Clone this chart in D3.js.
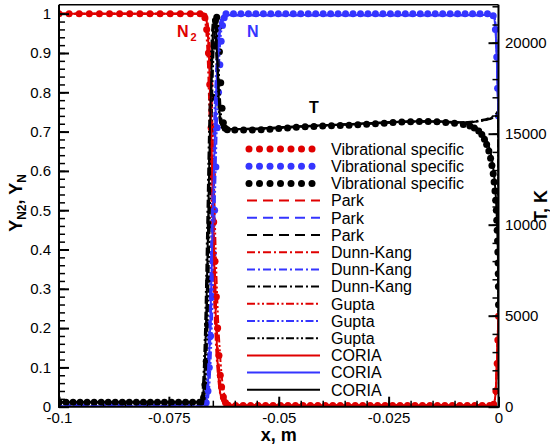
<!DOCTYPE html>
<html><head><meta charset="utf-8">
<script src="https://cdn.jsdelivr.net/npm/d3@7"></script>
<style>body{margin:0;background:#fff}svg{display:block}text{font-family:"Liberation Sans",Arial,sans-serif}</style>
</head><body><svg id="c" width="550" height="448"></svg>
<script>
// ---------------- DATA ----------------
const xTicks = [-0.1, -0.075, -0.05, -0.025, 0];
const xTickLabels = ["-0.1", "-0.075", "-0.05", "-0.025", "0"];
const yTicks = [0, 0.1, 0.2, 0.3, 0.4, 0.5, 0.6, 0.7, 0.8, 0.9, 1];
const yTickLabels = ["0", "0.1", "0.2", "0.3", "0.4", "0.5", "0.6", "0.7", "0.8", "0.9", "1"];
const tTicks = [0, 5000, 10000, 15000, 20000];
const tTickLabels = ["0", "5000", "10000", "15000", "20000"];
const models = ["Vibrational specific", "Park", "Dunn-Kang", "Gupta", "CORIA"];

// Vibrational specific (symbols)
const vibN2 = [[-0.1,1],[-0.0977,1],[-0.0954,1],[-0.0931,1],[-0.0908,1],[-0.0885,1],[-0.0862,1],[-0.0839,1],[-0.0816,1],[-0.0793,1],[-0.077,1],[-0.0747,1],[-0.0724,1],[-0.0701,1],[-0.0679,1],
 [-0.0668,0.99],[-0.0664,0.96],[-0.066,0.9],[-0.0657,0.82],[-0.0654,0.71],[-0.0651,0.59],[-0.0648,0.47],[-0.0645,0.37],[-0.0642,0.28],[-0.0639,0.2],[-0.0636,0.13],[-0.0633,0.08],[-0.063,0.05],[-0.0626,0.025],[-0.0621,0.01],[-0.0615,0.004],
 [-0.0598,0.003],[-0.0581,0.003],[-0.0564,0.003],[-0.0547,0.003],[-0.053,0.003],[-0.0513,0.003],[-0.0496,0.003],[-0.0479,0.003],[-0.0462,0.003],[-0.0445,0.003],[-0.0428,0.003],[-0.0411,0.003],[-0.0394,0.003],[-0.0377,0.003],[-0.036,0.003],[-0.0343,0.003],[-0.0326,0.003],[-0.0309,0.003],[-0.0292,0.003],[-0.0275,0.003],[-0.0258,0.003],[-0.0241,0.003],[-0.0224,0.003],[-0.0207,0.003],[-0.019,0.003],[-0.0173,0.003],[-0.0156,0.003],[-0.0139,0.003],[-0.0122,0.003],[-0.0105,0.003],[-0.0088,0.003],[-0.0071,0.003],[-0.0054,0.003],[-0.0037,0.003],[-0.002,0.003],
 [-0.0011,0.006],[-0.0006,0.04],[-0.0003,0.11],[-0.00015,0.17],[0,0.23]];
const vibN = [[-0.1,0],[-0.098,0],[-0.096,0],[-0.094,0],[-0.092,0],[-0.09,0],[-0.088,0],[-0.086,0],[-0.084,0],[-0.082,0],[-0.08,0],[-0.078,0],[-0.076,0],[-0.074,0],[-0.072,0],[-0.07,0],[-0.068,0],
 [-0.0665,0.01],[-0.0661,0.04],[-0.0658,0.1],[-0.0655,0.18],[-0.0652,0.28],[-0.0649,0.39],[-0.0646,0.5],[-0.0643,0.61],[-0.064,0.71],[-0.0637,0.8],[-0.0634,0.87],[-0.0631,0.93],[-0.0628,0.97],[-0.0624,0.99],[-0.062,1],
 [-0.0603,1],[-0.0586,1],[-0.0569,1],[-0.0552,1],[-0.0535,1],[-0.0518,1],[-0.0501,1],[-0.0484,1],[-0.0467,1],[-0.045,1],[-0.0433,1],[-0.0416,1],[-0.0399,1],[-0.0382,1],[-0.0365,1],[-0.0348,1],[-0.0331,1],[-0.0314,1],[-0.0297,1],[-0.028,1],[-0.0263,1],[-0.0246,1],[-0.0229,1],[-0.0212,1],[-0.0195,1],[-0.0178,1],[-0.0161,1],[-0.0144,1],[-0.0127,1],[-0.011,1],[-0.0093,1],[-0.0076,1],[-0.0059,1],[-0.0042,1],[-0.0025,1],
 [-0.0012,0.995],[-0.0007,0.96],[-0.0004,0.89],[-0.0002,0.81],[0,0.74]];
const vibT = [[-0.1,250],[-0.0984,250],[-0.0968,250],[-0.0952,250],[-0.0936,250],[-0.092,250],[-0.0904,250],[-0.0888,250],[-0.0872,250],[-0.0856,250],[-0.084,250],[-0.0824,250],[-0.0808,250],[-0.0792,250],[-0.0776,250],[-0.076,250],[-0.0744,250],[-0.0728,250],[-0.0712,250],[-0.0696,250],[-0.068,250],
 [-0.0675,260],[-0.0671,500],[-0.0668,1200],[-0.0665,2500],[-0.0662,4500],[-0.0659,7000],[-0.0656,10000],[-0.0653,13500],[-0.065,17000],[-0.0647,19800],[-0.0644,21200],[-0.0641,21400],[-0.0638,20800],[-0.0635,19500],[-0.0632,17800],[-0.0629,16400],[-0.0626,15600],[-0.0622,15300],[-0.0617,15220],
 [-0.06,15200],[-0.058,15200],[-0.056,15210],[-0.054,15220],[-0.052,15240],[-0.05,15280],[-0.048,15320],[-0.046,15350],[-0.044,15380],[-0.042,15400],[-0.04,15420],[-0.038,15440],[-0.036,15450],[-0.034,15470],[-0.032,15490],[-0.03,15520],[-0.028,15550],[-0.026,15580],[-0.024,15610],[-0.022,15640],[-0.02,15660],[-0.018,15670],[-0.016,15670],[-0.014,15650],[-0.012,15620],[-0.01,15570],[-0.008,15500],
 [-0.0065,15420],[-0.0055,15320],[-0.0045,15150],[-0.0038,14950],[-0.0032,14700],[-0.0027,14400],[-0.0022,14050],[-0.0018,13650],[-0.0015,13250],[-0.0012,12800],[-0.001,12350],[-0.0008,11850],[-0.00065,11350],[-0.0005,10800],[-0.0004,10250],[-0.0003,9700],[-0.00022,9100],[-0.00015,8500],[-0.0001,7900],[-0.00006,7300],[-0.00003,6600],[0,5600]];

// Park
const parkN2 = [[-0.1,1],[-0.0668,1],[-0.0664,0.98],[-0.066,0.93],[-0.0656,0.82],[-0.0652,0.65],[-0.0648,0.46],[-0.0644,0.3],[-0.064,0.18],[-0.0636,0.1],[-0.0632,0.05],[-0.0628,0.025],[-0.0622,0.01],[-0.0615,0.004],[-0.0012,0.004],[-0.0007,0.03],[-0.0004,0.1],[-0.0002,0.17],[0,0.23]];
const parkN = [[-0.1,0],[-0.0667,0],[-0.0663,0.02],[-0.0659,0.08],[-0.0655,0.2],[-0.0651,0.38],[-0.0647,0.57],[-0.0643,0.74],[-0.0639,0.86],[-0.0635,0.94],[-0.0631,0.975],[-0.0626,0.99],[-0.062,0.996],[-0.001,0.996],[-0.0006,0.95],[-0.0003,0.86],[-0.00015,0.79],[0,0.74]];
const parkT = [[-0.1,250],[-0.0676,250],[-0.0672,500],[-0.0668,1800],[-0.0664,4800],[-0.066,9500],[-0.0656,14500],[-0.0652,18500],[-0.0648,20800],[-0.0645,21300],[-0.0642,20700],[-0.0639,19000],[-0.0636,17200],[-0.0633,16000],[-0.063,15500],[-0.0625,15300],[-0.062,15250],[-0.055,15270],[-0.05,15330],[-0.04,15460],[-0.03,15560],[-0.02,15670],[-0.015,15680],[-0.01,15630],[-0.007,15630],[-0.004,15710],[-0.002,15830],[-0.001,15930],[-0.0004,16050],[-0.0001,16100],[0,5000]];
// Dunn-Kang
const dkN2 = [[-0.1,1],[-0.0671,1],[-0.0667,0.98],[-0.0663,0.92],[-0.0659,0.8],[-0.0655,0.62],[-0.0651,0.43],[-0.0647,0.27],[-0.0643,0.16],[-0.0639,0.09],[-0.0635,0.045],[-0.063,0.02],[-0.0624,0.008],[-0.0615,0.004],[-0.0012,0.004],[-0.0007,0.03],[-0.0004,0.1],[-0.0002,0.17],[0,0.23]];
const dkN = [[-0.1,0],[-0.067,0],[-0.0666,0.02],[-0.0662,0.09],[-0.0658,0.22],[-0.0654,0.41],[-0.065,0.6],[-0.0646,0.76],[-0.0642,0.87],[-0.0638,0.94],[-0.0634,0.975],[-0.0629,0.99],[-0.0622,0.996],[-0.001,0.996],[-0.0006,0.95],[-0.0003,0.86],[-0.00015,0.79],[0,0.74]];
const dkT = [[-0.1,250],[-0.0679,250],[-0.0675,500],[-0.0671,1900],[-0.0667,5000],[-0.0663,9800],[-0.0659,14800],[-0.0655,18700],[-0.0651,20900],[-0.0648,21350],[-0.0645,20800],[-0.0642,19200],[-0.0639,17400],[-0.0636,16100],[-0.0633,15550],[-0.0628,15300],[-0.062,15240],[-0.055,15260],[-0.05,15320],[-0.04,15450],[-0.03,15550],[-0.02,15660],[-0.015,15670],[-0.01,15620],[-0.007,15640],[-0.004,15740],[-0.002,15880],[-0.001,16000],[-0.0004,16150],[-0.0001,16250],[0,5000]];
// Gupta
const guN2 = [[-0.1,1],[-0.0666,1],[-0.0662,0.98],[-0.0658,0.93],[-0.0654,0.83],[-0.065,0.68],[-0.0646,0.5],[-0.0642,0.34],[-0.0638,0.22],[-0.0634,0.14],[-0.063,0.08],[-0.0626,0.045],[-0.0622,0.022],[-0.0617,0.01],[-0.061,0.004],[-0.0012,0.004],[-0.0007,0.03],[-0.0004,0.1],[-0.0002,0.17],[0,0.23]];
const guN = [[-0.1,0],[-0.0665,0],[-0.0661,0.02],[-0.0657,0.07],[-0.0653,0.18],[-0.0649,0.35],[-0.0645,0.54],[-0.0641,0.71],[-0.0637,0.84],[-0.0633,0.93],[-0.0629,0.97],[-0.0624,0.99],[-0.0618,0.996],[-0.001,0.996],[-0.0006,0.95],[-0.0003,0.86],[-0.00015,0.79],[0,0.74]];
const guT = [[-0.1,250],[-0.0674,250],[-0.067,500],[-0.0666,1700],[-0.0662,4600],[-0.0658,9200],[-0.0654,14200],[-0.065,18300],[-0.0646,20700],[-0.0643,21250],[-0.064,20600],[-0.0637,18900],[-0.0634,17100],[-0.0631,15950],[-0.0628,15450],[-0.0622,15280],[-0.0615,15240],[-0.055,15250],[-0.05,15310],[-0.04,15440],[-0.03,15540],[-0.02,15650],[-0.015,15660],[-0.01,15610],[-0.007,15620],[-0.004,15700],[-0.002,15800],[-0.001,15900],[-0.0004,16000],[-0.0001,16050],[0,5000]];
// CORIA
const coN2 = [[-0.1,1],[-0.0667,1],[-0.0663,0.97],[-0.0659,0.9],[-0.0655,0.76],[-0.0651,0.57],[-0.0647,0.38],[-0.0643,0.22],[-0.0639,0.11],[-0.0635,0.05],[-0.063,0.02],[-0.0624,0.006],[-0.0618,0.003],[-0.0012,0.003],[-0.0007,0.03],[-0.0004,0.1],[-0.0002,0.17],[0,0.23]];
const coN = [[-0.1,0],[-0.0668,0],[-0.0664,0.02],[-0.066,0.08],[-0.0656,0.2],[-0.0652,0.38],[-0.0648,0.58],[-0.0644,0.75],[-0.064,0.87],[-0.0636,0.94],[-0.0632,0.975],[-0.0627,0.99],[-0.062,0.997],[-0.0012,0.997],[-0.0007,0.96],[-0.0004,0.89],[-0.0002,0.81],[0,0.74]];
const coT = [[-0.1,250],[-0.0677,250],[-0.0673,500],[-0.0669,1800],[-0.0665,4900],[-0.0661,9700],[-0.0657,14700],[-0.0653,18600],[-0.0649,20850],[-0.0646,21300],[-0.0643,20700],[-0.064,19000],[-0.0637,17200],[-0.0634,16000],[-0.0631,15500],[-0.0626,15300],[-0.062,15260],[-0.055,15290],[-0.05,15350],[-0.04,15470],[-0.03,15570],[-0.02,15680],[-0.015,15690],[-0.01,15640],[-0.008,15580],[-0.006,15460],[-0.0045,15250],[-0.0035,15000],[-0.0027,14650],[-0.002,14150],[-0.0015,13600],[-0.001,12700],[-0.0006,11500],[-0.0003,9800],[-0.0001,7800],[0,5600]];

// ---------------- CHART ----------------
const svg = d3.select("#c");
const L = 59, R = 498.5, T0 = 4.7, B = 406.7;
const x = d3.scaleLinear().domain([-0.1, 0]).range([L, R]);
const y = d3.scaleLinear().domain([0, 1]).range([B, 13.7]);
const t = d3.scaleLinear().domain([0, 20000]).range([B, 42.7]);

const RED = "#e00000", BLUE = "#3535ff", BLACK = "#000000";
const styles = {
  "Vibrational specific": null,
  "Park": "10,6",
  "Dunn-Kang": "8,3,2,3",
  "Gupta": "8,2.5,2,2.5,2,2.5",
  "CORIA": "none"
};
const seriesData = [
  [vibN2, vibN, vibT],
  [parkN2, parkN, parkT],
  [dkN2, dkN, dkT],
  [guN2, guN, guT],
  [coN2, coN, coT]
];
const qColors = [RED, BLUE, BLACK];

svg.append("defs").append("clipPath").attr("id", "clip")
  .append("rect").attr("x", L).attr("y", T0).attr("width", R - L).attr("height", B - T0);

const plot = svg.append("g").attr("clip-path", "url(#clip)");

models.forEach((m, mi) => {
  seriesData[mi].forEach((data, qi) => {
    const sc = qi === 2 ? t : y;
    if (styles[m] === null) {
      plot.append("g").selectAll("circle").data(data).join("circle")
        .attr("cx", d => x(d[0])).attr("cy", d => sc(d[1])).attr("r", 3.5)
        .attr("fill", qColors[qi]);
    } else {
      const line = d3.line().x(d => x(d[0])).y(d => sc(d[1])).curve(d3.curveMonotoneX);
      plot.append("path").datum(data).attr("d", line)
        .attr("fill", "none").attr("stroke", qColors[qi]).attr("stroke-width", 2)
        .attr("stroke-dasharray", styles[m]);
    }
  });
});

// Axes
const fmt = (vals, labels) => v => labels[vals.indexOf(v)];
const ax = svg.append("g").attr("font-size", 15);

const gl = svg.append("g").attr("transform", `translate(${L},0)`)
  .call(d3.axisLeft(y).tickValues(yTicks).tickFormat(fmt(yTicks, yTickLabels)).tickSize(-10).tickPadding(8));
const glm = svg.append("g").attr("transform", `translate(${L},0)`)
  .call(d3.axisLeft(y).tickValues(d3.range(0, 1.0001, 0.02)).tickFormat("").tickSize(-6));

const gb = svg.append("g").attr("transform", `translate(0,${B})`)
  .call(d3.axisBottom(x).tickValues(xTicks).tickFormat(fmt(xTicks, xTickLabels)).tickSize(-10).tickPadding(5.5));
const gbm = svg.append("g").attr("transform", `translate(0,${B})`)
  .call(d3.axisBottom(x).tickValues(d3.range(-0.1, 0.0001, 0.005)).tickFormat("").tickSize(-6));

const gr = svg.append("g").attr("transform", `translate(${R},0)`)
  .call(d3.axisRight(t).tickValues(tTicks).tickFormat(fmt(tTicks, tTickLabels)).tickSize(-10).tickPadding(6.5));
const grm = svg.append("g").attr("transform", `translate(${R},0)`)
  .call(d3.axisRight(t).tickValues(d3.range(0, 22001, 1000)).tickFormat("").tickSize(-6));

[gl, glm, gb, gbm, gr, grm].forEach(g => {
  g.select(".domain").remove();
  g.selectAll("text").attr("font-size", 15).attr("fill", "#000")
    .attr("font-family", '"Liberation Sans", Arial, sans-serif');
  g.selectAll("line").attr("stroke", "#000");
});
[gl, gb, gr].forEach(g => g.selectAll("line").attr("stroke-width", 2));
[glm, gbm, grm].forEach(g => g.selectAll("line").attr("stroke-width", 1.5));

// Frame
svg.append("line").attr("x1", L).attr("x2", R).attr("y1", T0).attr("y2", T0).attr("stroke", "#000").attr("stroke-width", 1.5);
svg.append("line").attr("x1", L).attr("x2", L).attr("y1", T0).attr("y2", B + 1).attr("stroke", "#000").attr("stroke-width", 2);
svg.append("line").attr("x1", R).attr("x2", R).attr("y1", T0).attr("y2", B + 1).attr("stroke", "#000").attr("stroke-width", 2);
svg.append("line").attr("x1", L - 1).attr("x2", R + 1).attr("y1", B).attr("y2", B).attr("stroke", "#000").attr("stroke-width", 2);

// Axis titles
svg.append("text").attr("x", (L + R) / 2).attr("y", 441).attr("text-anchor", "middle")
  .attr("font-size", 18).attr("font-weight", "bold").text("x, m");

const yt = svg.append("text").attr("transform", "translate(22,203) rotate(-90)")
  .attr("text-anchor", "middle").attr("font-size", 18).attr("font-weight", "bold");
yt.append("tspan").text("Y");
yt.append("tspan").attr("font-size", 12).attr("dy", 4).text("N2");
yt.append("tspan").attr("dy", -4).text(", Y");
yt.append("tspan").attr("font-size", 12).attr("dy", 4).text("N");

svg.append("text").attr("transform", "translate(547,206) rotate(-90)")
  .attr("text-anchor", "middle").attr("font-size", 18).attr("font-weight", "bold").text("T, K");

// Annotations
const a1 = svg.append("text").attr("x", 177).attr("y", 37).attr("font-size", 16)
  .attr("font-weight", "bold").attr("fill", RED);
a1.append("tspan").text("N");
a1.append("tspan").attr("font-size", 11).attr("dx", 2).attr("dy", 4).text("2");
svg.append("text").attr("x", 247).attr("y", 37).attr("font-size", 16)
  .attr("font-weight", "bold").attr("fill", BLUE).text("N");
svg.append("text").attr("x", 309).attr("y", 113).attr("font-size", 16)
  .attr("font-weight", "bold").attr("fill", BLACK).text("T");

// Legend
const leg = svg.append("g");
const lx0 = 247, lx1 = 320, ly0 = 149, ldy = 17.2;
let row = 0;
models.forEach((m, mi) => {
  qColors.forEach((c, qi) => {
    const yy = ly0 + row * ldy;
    if (styles[m] === null) {
      leg.append("g").selectAll("circle").data(d3.range(7)).join("circle")
        .attr("cx", k => lx0 + 2 + k * 10.5).attr("cy", yy).attr("r", 3.5).attr("fill", c);
    } else {
      leg.append("line").attr("x1", lx0).attr("x2", lx1).attr("y1", yy).attr("y2", yy)
        .attr("stroke", c).attr("stroke-width", 2).attr("stroke-dasharray", styles[m]);
    }
    leg.append("text").attr("x", 331).attr("y", yy + 5.7).attr("font-size", 16).attr("fill", "#000").text(m);
    row++;
  });
});
</script></body></html>
